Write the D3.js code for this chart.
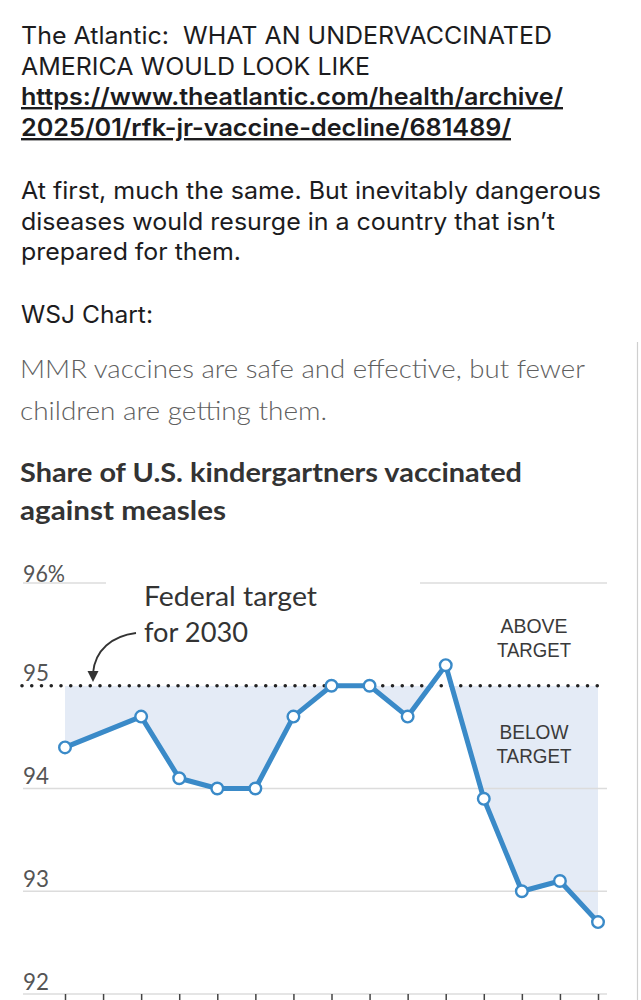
<!DOCTYPE html>
<html>
<head>
<meta charset="utf-8">
<script src="https://cdn.jsdelivr.net/npm/d3@7"></script>
<style>
  html, body { margin: 0; padding: 0; background: #fff; }
  svg { display: block; }
</style>
</head>
<body>
<div id="chart"></div>
<script>
// ---- data ----
const years = ["2009-10","2010-11","2011-12","2012-13","2013-14","2014-15","2015-16","2016-17",
               "2017-18","2018-19","2019-20","2020-21","2021-22","2022-23","2023-24"];
const shareVaccinated = [94.4, null, 94.7, 94.1, 94.0, 94.0, 94.7, 95.0, 95.0, 94.7, 95.2, 93.9, 93.0, 93.1, 92.7];
const target = 95;
const yTicks = [92, 93, 94, 95, 96];
const yTickLabels = ["92", "93", "94", "95", "96%"];

const postLines = ["The Atlantic:  WHAT AN UNDERVACCINATED", "AMERICA WOULD LOOK LIKE"];
const linkLines = ["https://www.theatlantic.com/health/archive/", "2025/01/rfk-jr-vaccine-decline/681489/"];
const bodyLines = ["At first, much the same. But inevitably dangerous", "diseases would resurge in a country that isn\u2019t", "prepared for them."];
const wsjLabel = "WSJ Chart:";
const subtitleLines = ["MMR vaccines are safe and effective, but fewer", "children are getting them."];
const titleLines = ["Share of U.S. kindergartners vaccinated", "against measles"];
const annotationLines = ["Federal target", "for 2030"];
const aboveLines = ["ABOVE", "TARGET"];
const belowLines = ["BELOW", "TARGET"];

// ---- setup ----
const W = 641, H = 1000;
const svg = d3.select("#chart").append("svg").attr("width", W).attr("height", H);
svg.append("rect").attr("width", W).attr("height", H).attr("fill", "#fff");

function textLine(g, str, x, y, len, opts) {
  const t = g.append("text").attr("x", x).attr("y", y).style("white-space", "pre").text(str);
  if (len) t.attr("textLength", len).attr("lengthAdjust", "spacingAndGlyphs");
  Object.entries(opts || {}).forEach(([k, v]) => t.style(k, v));
  return t;
}
// multi-line block as one text element with tspans
function textBlock(g, lines, x, y0, lh, lens, opts) {
  const t = g.append("text");
  Object.entries(opts || {}).forEach(([k, v]) => t.style(k, v));
  lines.forEach((s, i) => {
    const ts = t.append("tspan").attr("x", x).attr("y", y0 + i * lh).text(s);
    if (lens && lens[i]) ts.attr("textLength", lens[i]).attr("lengthAdjust", "spacingAndGlyphs");
  });
  return t;
}

// ---- post text ----
const postG = svg.append("g").style("font-family", "Inter, 'Noto Sans', sans-serif").attr("fill", "#1c1c1e");
const topStyle = { "font-size": "24px", "font-weight": 400 };
textLine(postG, postLines[0], 21, 44, 531, topStyle);
textLine(postG, postLines[1], 21, 75, 349, topStyle);
textLine(postG, linkLines[0], 21, 105, 542, { "font-size": "24px", "font-weight": 600, "text-decoration": "underline" });
textLine(postG, linkLines[1], 21, 136, 490, { "font-size": "24px", "font-weight": 600, "text-decoration": "underline" });
textLine(postG, bodyLines[0], 21, 199, 580, topStyle);
textLine(postG, bodyLines[1], 21, 230, 534, topStyle);
textLine(postG, bodyLines[2], 21, 260, 220, topStyle);
textLine(postG, wsjLabel, 21, 323, 132, topStyle);

// card border on right
svg.append("line").attr("x1", 637.5).attr("x2", 637.5).attr("y1", 342).attr("y2", H)
  .attr("stroke", "#cfcfcf").attr("stroke-width", 1.2);

// ---- WSJ headings ----
const wsj = svg.append("g").style("font-family", "Lato, 'Open Sans', sans-serif");
textLine(wsj, subtitleLines[0], 20, 378, 565, { "font-size": "25px", "font-weight": 300, "fill": "#5f5f5f" });
textLine(wsj, subtitleLines[1], 20, 420, 307, { "font-size": "25px", "font-weight": 300, "fill": "#5f5f5f" });
textLine(wsj, titleLines[0], 20, 482, 502, { "font-size": "27px", "font-weight": 700, "fill": "#333" });
textLine(wsj, titleLines[1], 20, 520, 206, { "font-size": "27px", "font-weight": 700, "fill": "#333" });

// ---- scales ----
const x = d3.scaleLinear().domain([0, years.length - 1]).range([65, 598]);
const y = d3.scaleLinear().domain([92, 96]).range([994, 583]);
const gridX0 = 23, gridX1 = 607;

const chart = svg.append("g");

// shaded area below target
const pts = shareVaccinated.map((v, i) => ({ i, v })).filter(d => d.v != null);
svg.append("defs").append("clipPath").attr("id", "belowClip")
  .append("rect").attr("x", 0).attr("y", y(target)).attr("width", W).attr("height", H);
chart.append("path")
  .datum(pts)
  .attr("clip-path", "url(#belowClip)")
  .attr("fill", "#e4ebf6")
  .attr("d", d3.area().x(d => x(d.i)).y0(y(target)).y1(d => y(d.v)));

// gridlines
const grid = chart.append("g");
yTicks.filter(t => t !== 95 && t !== 96).forEach(t => {
  grid.append("line").attr("x1", gridX0).attr("x2", gridX1).attr("y1", y(t)).attr("y2", y(t))
    .attr("stroke", "#dcdcdc").attr("stroke-width", 1.5);
});
// 96 gridline split around annotation
[[gridX0, 106], [420, gridX1]].forEach(([a, b]) => {
  grid.append("line").attr("x1", a).attr("x2", b).attr("y1", y(96)).attr("y2", y(96))
    .attr("stroke", "#dcdcdc").attr("stroke-width", 1.5);
});

// y-axis labels
const yAxis = d3.axisRight(y).tickValues(yTicks).tickSize(0).tickPadding(0)
  .tickFormat(d => yTickLabels[yTicks.indexOf(d)]);
const yAxisG = chart.append("g").attr("transform", `translate(${gridX0},0)`).call(yAxis);
yAxisG.select(".domain").remove();
yAxisG.selectAll(".tick text")
  .attr("dy", null)
  .attr("y", d => d === 96 ? -2 : -5)
  .attr("fill", "#555")
  .style("font-family", "Lato, 'Open Sans', sans-serif")
  .style("font-size", "24px")
  .attr("textLength", d => d === 96 ? 42 : 26)
  .attr("lengthAdjust", "spacingAndGlyphs");

// target dotted line
chart.append("line")
  .attr("x1", 22).attr("x2", 600).attr("y1", y(target)).attr("y2", y(target))
  .attr("stroke", "#222").attr("stroke-width", 3.6).attr("stroke-linecap", "round")
  .attr("stroke-dasharray", "0 9.75");

// bottom axis ticks
const xAxis = d3.axisBottom(x).tickValues(d3.range(years.length)).tickSize(10).tickFormat("");
const xAxisG = chart.append("g").attr("transform", `translate(0,${y(92)})`).call(xAxis);
xAxisG.select(".domain").remove();
xAxisG.selectAll(".tick line").attr("stroke", "#444").attr("stroke-width", 1.5);

// line
chart.append("path")
  .datum(pts)
  .attr("fill", "none")
  .attr("stroke", "#3a8ac8")
  .attr("stroke-width", 5)
  .attr("stroke-linejoin", "round")
  .attr("d", d3.line().x(d => x(d.i)).y(d => y(d.v)));

chart.selectAll("circle.pt").data(pts).join("circle")
  .attr("class", "pt")
  .attr("cx", d => x(d.i)).attr("cy", d => y(d.v)).attr("r", 5.8)
  .attr("fill", "#fff").attr("stroke", "#3a8ac8").attr("stroke-width", 2.4);

// annotation
const ann = chart.append("g").style("font-family", "Lato, 'Open Sans', sans-serif").attr("fill", "#333");
textBlock(ann, annotationLines, 144, 606, 36, [173, 104], { "font-size": "27px", "font-weight": 400 });
ann.append("path").attr("d", "M136,633 C112,636 95,650 93,673")
  .attr("fill", "none").attr("stroke", "#333").attr("stroke-width", 1.8);
ann.append("path").attr("d", "M87.5,671 L98.5,671 L93,682 Z").attr("fill", "#333");

const lbl = chart.append("g").style("font-family", "'Liberation Sans', Arial, sans-serif").attr("fill", "#3a3a3a")
  .attr("text-anchor", "middle");
textBlock(lbl, aboveLines, 534, 633, 24, [67, 74], { "font-size": "21px" });
textBlock(lbl, belowLines, 534, 739, 24, [69, 75], { "font-size": "21px" });
</script>
</body>
</html>
